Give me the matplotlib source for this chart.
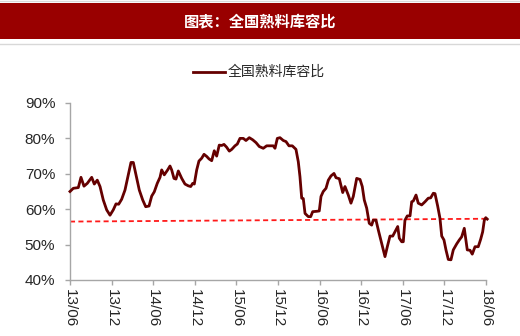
import matplotlib
matplotlib.use("Agg")
import matplotlib.pyplot as plt
from matplotlib.lines import Line2D
import numpy as np

plt.rcParams['font.family'] = ['Liberation Sans', 'Noto Sans CJK SC', 'DejaVu Sans']

title = "图表：全国熟料库容比"
series_name = "全国熟料库容比"

# time in years since June 2013
t_years = [0.000, 0.040, 0.100, 0.132, 0.168, 0.208, 0.261, 0.292, 0.328, 0.361,
           0.400, 0.441, 0.481, 0.520, 0.553, 0.585, 0.621, 0.661, 0.701, 0.733,
           0.761, 0.802, 0.833, 0.874, 0.910, 0.950, 0.982, 1.013, 1.049, 1.082,
           1.102, 1.133, 1.174, 1.202, 1.222, 1.250, 1.274, 1.302, 1.343, 1.382,
           1.422, 1.451, 1.475, 1.494, 1.523, 1.550, 1.583, 1.611, 1.643, 1.671,
           1.703, 1.734, 1.763, 1.794, 1.823, 1.851, 1.883, 1.915, 1.944, 1.983,
           2.011, 2.043, 2.083, 2.115, 2.155, 2.196, 2.236, 2.275, 2.323, 2.364,
           2.443, 2.464, 2.492, 2.524, 2.564, 2.596, 2.632, 2.672, 2.716, 2.744,
           2.764, 2.785, 2.804, 2.825, 2.864, 2.893, 2.917, 2.965, 2.996, 3.017,
           3.044, 3.077, 3.105, 3.137, 3.173, 3.197, 3.237, 3.278, 3.305, 3.345,
           3.377, 3.405, 3.446, 3.486, 3.513, 3.537, 3.566, 3.597, 3.626, 3.645,
           3.678, 3.706, 3.746, 3.786, 3.814, 3.846, 3.879, 3.906, 3.939, 3.958,
           3.987, 4.006, 4.026, 4.054, 4.087, 4.107, 4.126, 4.159, 4.186, 4.227,
           4.267, 4.306, 4.335, 4.367, 4.387, 4.419, 4.447, 4.468, 4.495, 4.519,
           4.547, 4.579, 4.607, 4.648, 4.679, 4.708, 4.739, 4.775, 4.808, 4.835,
           4.868, 4.907, 4.936, 4.960, 4.980, 4.997, 5.015]

ratio_pct = [65.0, 65.9, 66.1, 69.0, 66.5, 67.3, 69.0, 67.1, 68.2, 66.4,
             62.6, 59.8, 58.3, 59.8, 61.5, 61.4, 62.8, 65.4, 69.7, 73.2,
             73.2, 68.7, 65.4, 62.6, 60.7, 60.9, 63.7, 64.9, 67.3, 69.0,
             71.1, 69.7, 71.1, 72.2, 71.1, 68.7, 68.5, 70.8, 68.7, 67.1,
             66.6, 66.4, 67.3, 67.1, 71.1, 73.6, 74.4, 75.5, 74.9, 74.2,
             73.7, 76.5, 75.0, 78.1, 78.0, 78.3, 77.5, 76.4, 76.9, 77.9,
             78.4, 80.0, 80.0, 79.4, 80.2, 79.6, 78.8, 77.7, 77.2, 77.9,
             77.9, 77.2, 80.0, 80.2, 79.4, 79.1, 77.9, 77.9, 76.9, 73.4,
             69.2, 63.1, 63.0, 58.8, 57.9, 57.9, 59.3, 59.4, 59.5, 63.6,
             65.0, 65.9, 68.2, 69.4, 70.1, 68.9, 68.6, 64.7, 66.4, 64.0,
             61.7, 63.6, 68.7, 68.4, 66.4, 62.6, 60.3, 56.0, 55.5, 56.9,
             56.9, 54.1, 50.4, 46.6, 49.4, 52.4, 52.4, 53.6, 55.1, 51.8,
             50.8, 50.8, 56.9, 58.1, 58.1, 62.1, 62.3, 64.0, 61.7, 61.2,
             62.1, 63.1, 63.2, 64.5, 64.4, 60.9, 57.4, 52.4, 51.3, 48.5,
             45.8, 45.7, 48.5, 50.2, 51.3, 52.2, 54.6, 48.5, 48.4, 47.3,
             49.4, 49.4, 51.5, 53.6, 56.9, 57.6, 57.2]

# linear trend endpoints (start, end)
trend_t = [0.0, 5.015]
trend_pct = [56.5, 57.3]

tick_pos = [0.0, 0.5, 1.0, 1.5, 2.0, 2.5, 3.0, 3.5, 4.0, 4.5, 5.0]
tick_labels = ["13/06", "13/12", "14/06", "14/12", "15/06", "15/12",
               "16/06", "16/12", "17/06", "17/12", "18/06"]
y_ticks = [40, 50, 60, 70, 80, 90]

fig = plt.figure(figsize=(5.2, 3.36), dpi=100)

# title band
fig.patches.append(plt.Rectangle((0, 0.884), 1, 0.107, transform=fig.transFigure,
                                 facecolor="#990000", edgecolor="none", zorder=0))
fig.add_artist(Line2D([0, 1], [0.997, 0.997], transform=fig.transFigure,
                      color="#d8d8d8", lw=1))
fig.add_artist(Line2D([0, 1], [0.868, 0.868], transform=fig.transFigure,
                      color="#d8d8d8", lw=1))
fig.text(0.5, 0.937, title, color="white", fontsize=11, fontweight="bold",
         ha="center", va="center", family=["Noto Sans CJK SC", "DejaVu Sans"])

ax = fig.add_axes([0.1346, 0.1667, 0.8, 0.5268])
line_color = "#650000"
ax.plot(t_years, ratio_pct, color=line_color, lw=2.0, clip_on=False, zorder=3)
ax.plot(trend_t, trend_pct, color="#ff1a1a", lw=1.3, ls=(0, (2.8, 1.85)), zorder=2)

ax.set_xlim(0, 5.0)
ax.set_ylim(40, 90)
ax.set_yticks(y_ticks)
ax.set_yticklabels([f"{v}%" for v in y_ticks])
ax.set_xticks(tick_pos)
ax.set_xticklabels(tick_labels, rotation=-90)

for s in ["top", "right"]:
    ax.spines[s].set_visible(False)
for s in ["left", "bottom"]:
    ax.spines[s].set_color("#a6a6a6")
    ax.spines[s].set_linewidth(1.0)
ax.tick_params(axis="both", colors="#a6a6a6", length=3.6, width=1,
               labelcolor="#262626", labelsize=11)
ax.tick_params(axis="x", pad=3)
ax.tick_params(axis="y", pad=7)

# legend above the plot
fig.add_artist(Line2D([193 / 520, 225 / 520], [1 - 72 / 336, 1 - 72 / 336],
                      transform=fig.transFigure, color=line_color, lw=2.0))
fig.text(228 / 520, 1 - 72 / 336, series_name, fontsize=10, color="#262626",
         ha="left", va="center", family=["Noto Sans CJK SC", "DejaVu Sans"])

fig.savefig("out.png", dpi=100)
